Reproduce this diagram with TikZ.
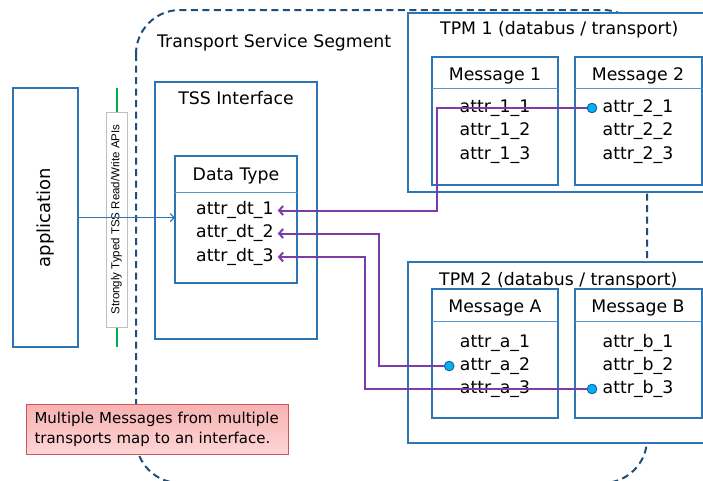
\documentclass[tikz,border=0pt]{standalone}
\usepackage{fontspec}
\setmainfont{DejaVu Sans}
\newfontfamily\apifont{Liberation Sans}
\usetikzlibrary{arrows.meta}
\definecolor{boxblue}{RGB}{46,117,182}
\definecolor{divblue}{RGB}{90,150,205}
\definecolor{tssblue}{RGB}{31,78,121}
\definecolor{purp}{RGB}{125,60,170}
\definecolor{dotcyan}{RGB}{0,176,240}
\definecolor{dotedge}{RGB}{30,100,170}
\definecolor{apigreen}{RGB}{0,176,80}
\definecolor{notetop}{RGB}{247,178,178}
\definecolor{notebot}{RGB}{255,214,214}
\definecolor{noteedge}{RGB}{205,85,85}
\tikzset{mybarb/.tip={Straight Barb[length=4pt,width=9pt]}}
\begin{document}
\begin{tikzpicture}[x=1pt,y=-1pt,
  box/.style={draw=boxblue, line width=2pt, fill=white, anchor=north west, inner sep=0pt, outer sep=0pt},
  divider/.style={draw=divblue, line width=1pt},
  lbl/.style={inner sep=0pt, font=\fontsize{17.3}{20}\selectfont},
  attr/.style={lbl, text height=12.5pt, text depth=4pt},
  conn/.style={draw=purp, line width=2pt},
  dotnode/.style={circle, fill=dotcyan, draw=dotedge, line width=0.8pt, minimum size=9.5pt, inner sep=0pt},
  tssline/.style={draw=tssblue, line width=2pt, dash pattern=on 7pt off 4.5pt},
  apibox/.style={draw=black!25, fill=white, line width=0.8pt, inner sep=0pt},
  notebox/.style={draw=noteedge, line width=1pt, top color=notetop, bottom color=notebot, anchor=north west, inner xsep=8pt, inner ysep=0pt, align=left, text width=246pt, minimum height=50pt, font=\fontsize{15}{20}\selectfont}
]
\clip (0,0) rectangle (703,480);
\fill[white] (0,0) rectangle (703,480);

% Transport Service Segment (dashed rounded outline)
\draw[tssline, rounded corners=44pt] (136,10) rectangle (647,483);
\node[lbl, anchor=base west] (tsslbl) at (157,47) {Transport Service Segment};

% TPM 1
\node[box, minimum width=320pt, minimum height=179pt] (tpm1) at (408,13) {};
\node[lbl, anchor=base west] (tpm1lbl) at (440,34) {TPM 1 (databus / transport)};
\node[box, minimum width=126pt, minimum height=128pt] (m1) at (432,57) {};
\draw[divider] ([yshift=-31pt]m1.north west) -- ([yshift=-31pt]m1.north east);
\node[lbl, anchor=base] (m1lbl) at (495,80) {Message 1};
\node[attr] (a11) at (495,108) {attr\_1\_1};
\node[attr] (a12) at (495,131.5) {attr\_1\_2};
\node[attr] (a13) at (495,155) {attr\_1\_3};
\node[box, minimum width=127pt, minimum height=128pt] (m2) at (575,57) {};
\draw[divider] ([yshift=-31pt]m2.north west) -- ([yshift=-31pt]m2.north east);
\node[lbl, anchor=base] (m2lbl) at (638,80) {Message 2};
\node[attr] (a21) at (638,108) {attr\_2\_1};
\node[attr] (a22) at (638,131.5) {attr\_2\_2};
\node[attr] (a23) at (638,155) {attr\_2\_3};

% TPM 2
\node[box, minimum width=320pt, minimum height=181pt] (tpm2) at (408,262) {};
\node[lbl, anchor=base west] (tpm2lbl) at (439,285) {TPM 2 (databus / transport)};
\node[box, minimum width=126pt, minimum height=129pt] (ma) at (432,289) {};
\draw[divider] ([yshift=-32pt]ma.north west) -- ([yshift=-32pt]ma.north east);
\node[lbl, anchor=base] (malbl) at (495,312) {Message A};
\node[attr] (aa1) at (495,343) {attr\_a\_1};
\node[attr] (aa2) at (495,366) {attr\_a\_2};
\node[attr] (aa3) at (495,389) {attr\_a\_3};
\node[box, minimum width=127pt, minimum height=129pt] (mb) at (575,289) {};
\draw[divider] ([yshift=-32pt]mb.north west) -- ([yshift=-32pt]mb.north east);
\node[lbl, anchor=base] (mblbl) at (638,312) {Message B};
\node[attr] (ab1) at (638,343) {attr\_b\_1};
\node[attr] (ab2) at (638,366) {attr\_b\_2};
\node[attr] (ab3) at (638,389) {attr\_b\_3};

% TSS Interface
\node[box, minimum width=162pt, minimum height=257pt] (tssif) at (155,82) {};
\node[lbl, anchor=base] (tssiflbl) at (236,104) {TSS Interface};
\node[box, minimum width=122pt, minimum height=127pt] (dt) at (175,156) {};
\draw[divider] ([yshift=-36pt]dt.north west) -- ([yshift=-36pt]dt.north east);
\node[lbl, anchor=base] (dtlbl) at (236,180) {Data Type};
\node[attr, anchor=west] (dt1) at (196,210.5) {attr\_dt\_1};
\node[attr, anchor=west] (dt2) at (196,233.5) {attr\_dt\_2};
\node[attr, anchor=west] (dt3) at (196,257) {attr\_dt\_3};

% application
\node[box, minimum width=65pt, minimum height=259pt] (app) at (13,88) {};
\node[inner sep=0pt, rotate=90, font=\fontsize{18}{20}\selectfont] (applbl) at (app.center) {application};

% API layer
\coordinate (gtop) at (116.5,88);
\coordinate (gbot) at (116.5,347);
\draw[apigreen, line width=2pt] (gtop) -- (gbot);
\node[apibox, rotate=90, minimum width=215pt, minimum height=21pt] (api) at (116.5,219.5)
  {\apifont\fontsize{11.5}{13}\selectfont Strongly Typed TSS Read/Write APIs};

% application -> data type
\draw[boxblue, line width=1.2pt, -{Straight Barb[length=4pt,width=8pt]}] (app.east) -- (app.east -| dt.west);

% mapping connectors
\coordinate (b1) at (437,210.5);
\coordinate (b2) at (379,366);
\coordinate (b3) at (365,389);
\node[dotnode] (p21) at ([xshift=-10.5pt]a21.west) {};
\node[dotnode] (pa2) at ([xshift=-10.5pt]aa2.west) {};
\node[dotnode] (pb3) at ([xshift=-10.5pt]ab3.west) {};
\draw[conn, -mybarb] (p21) -| (b1) -- ([xshift=4pt]dt1.east);
\draw[conn, mybarb-] ([xshift=4pt]dt2.east) -| (b2) -- (pa2);
\draw[conn, mybarb-] ([xshift=4pt]dt3.east) -| (b3) -- (pb3);
\node[dotnode] at (p21) {};
\node[dotnode] at (pa2) {};
\node[dotnode] at (pb3) {};

% note
\node[notebox] (note) at (26,404) {Multiple Messages from multiple\\transports map to an interface.};
\end{tikzpicture}
\end{document}
